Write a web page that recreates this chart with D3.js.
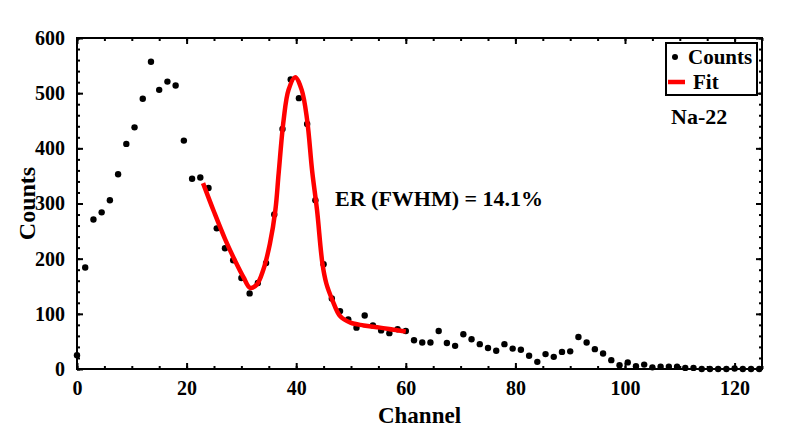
<!DOCTYPE html>
<html>
<head>
<meta charset="utf-8">
<script src="https://cdn.jsdelivr.net/npm/d3@7"></script>
<style>
  body { margin: 0; background: #fff; }
  svg text { font-family: "Liberation Serif", "Times New Roman", serif; font-weight: bold; }
</style>
</head>
<body>
<svg width="787" height="430"></svg>
<script>
// measured counts, one every 1.5 channel
var channels = d3.range(84).map(function(i) { return i * 1.5; });
var counts = [25, 184, 271, 284, 306, 353, 408, 438, 490, 557,
              506, 521, 514, 414, 345, 347, 328, 255, 219, 197,
              165, 137, 156, 192, 280, 435, 525, 491, 444, 306,
              190, 128, 105, 90, 75, 97, 79, 70, 65, 72,
              69, 52, 48, 48, 69, 47, 42, 63, 54, 45,
              38, 33, 45, 37, 35, 24, 13, 27, 22, 31,
              32, 58, 48, 36, 28, 16, 7, 12, 5, 8,
              3, 4, 4, 4, 2, 2, 0, 0, 0, 0,
              1, 0, 0, 0];

// fit line
var fitChannels = [23, 25, 27, 29, 30.4, 31.6, 32.8, 34, 35.2, 36.2, 36.8, 37.7, 38.6, 39.8,
                   41, 42, 42.9, 43.8, 44.8, 45.5, 46.6, 48, 49.9, 52.3, 55.3, 57.8, 60];
var fitCounts = [337, 285, 236, 193, 166, 147, 153, 180, 227, 288, 355, 451, 506, 529,
                 506, 451, 360, 288, 190, 155, 125, 96, 84, 79, 75, 71, 68];

var xTicks = [0, 20, 40, 60, 80, 100, 120];
var yTicks = [0, 100, 200, 300, 400, 500, 600];

var svg = d3.select("svg"),
    margin = {left: 77, right: 25, top: 38, bottom: 61},
    width = +svg.attr("width"),
    height = +svg.attr("height");

var x = d3.scaleLinear().domain([0, 125]).range([margin.left, width - margin.right]);
var y = d3.scaleLinear().domain([0, 600]).range([height - margin.bottom, margin.top]);

var x0 = x.range()[0], x1 = x.range()[1], y0 = y.range()[0], y1 = y.range()[1];

// minor ticks (inward, on all four sides)
var xMinor = d3.range(0, 126, 5), yMinor = d3.range(0, 601, 20);

function styleAxis(g) {
    g.select(".domain").remove();
    g.selectAll("line").attr("stroke", "#000").attr("stroke-width", 2);
}

svg.append("g").attr("transform", "translate(0," + y0 + ")")
    .call(d3.axisBottom(x).tickValues(xMinor).tickSize(-3).tickFormat(""))
    .call(styleAxis);
svg.append("g").attr("transform", "translate(0," + y1 + ")")
    .call(d3.axisTop(x).tickValues(xMinor).tickSize(-3).tickFormat(""))
    .call(styleAxis);
svg.append("g").attr("transform", "translate(" + x0 + ",0)")
    .call(d3.axisLeft(y).tickValues(yMinor).tickSize(-3).tickFormat(""))
    .call(styleAxis);
svg.append("g").attr("transform", "translate(" + x1 + ",0)")
    .call(d3.axisRight(y).tickValues(yMinor).tickSize(-3).tickFormat(""))
    .call(styleAxis);

// major ticks with labels
svg.append("g").attr("transform", "translate(0," + y0 + ")")
    .call(d3.axisBottom(x).tickValues(xTicks).tickSize(-6).tickPadding(12))
    .call(styleAxis)
    .selectAll("text").attr("font-size", 20).attr("fill", "#000")
    .attr("font-family", "Liberation Serif").attr("font-weight", "bold");
svg.append("g").attr("transform", "translate(0," + y1 + ")")
    .call(d3.axisTop(x).tickValues(xTicks).tickSize(-6).tickFormat(""))
    .call(styleAxis);
svg.append("g").attr("transform", "translate(" + x0 + ",0)")
    .call(d3.axisLeft(y).tickValues(yTicks).tickSize(-6).tickPadding(12))
    .call(styleAxis)
    .selectAll("text").attr("font-size", 20).attr("fill", "#000")
    .attr("font-family", "Liberation Serif").attr("font-weight", "bold");
svg.append("g").attr("transform", "translate(" + x1 + ",0)")
    .call(d3.axisRight(y).tickValues(yTicks).tickSize(-6).tickFormat(""))
    .call(styleAxis);

// box
svg.append("rect")
    .attr("x", x0).attr("y", y1)
    .attr("width", x1 - x0).attr("height", y0 - y1)
    .attr("fill", "none").attr("stroke", "#000").attr("stroke-width", 2);

// data points
svg.append("g")
    .selectAll("circle")
    .data(channels)
    .enter().append("circle")
    .attr("cx", function(d) { return x(d); })
    .attr("cy", function(d, i) { return y(counts[i]); })
    .attr("r", 3.2)
    .attr("fill", "#000");

// fit
var fitLine = d3.line()
    .x(function(d) { return x(d); })
    .y(function(d, i) { return y(fitCounts[i]); })
    .curve(d3.curveCatmullRom.alpha(0.5));

svg.append("path")
    .attr("d", fitLine(fitChannels))
    .attr("fill", "none")
    .attr("stroke", "#ff0000")
    .attr("stroke-width", 4.5)
    .attr("stroke-linejoin", "round");

// labels
svg.append("text")
    .attr("x", (x0 + x1) / 2).attr("y", 423)
    .attr("text-anchor", "middle")
    .attr("font-size", 23)
    .text("Channel");

svg.append("text")
    .attr("transform", "translate(35," + ((y0 + y1) / 2) + ") rotate(-90)")
    .attr("text-anchor", "middle")
    .attr("font-size", 24)
    .text("Counts");

svg.append("text")
    .attr("x", 335).attr("y", 206)
    .attr("font-size", 22)
    .text("ER (FWHM) = 14.1%");

svg.append("text")
    .attr("x", 671).attr("y", 124)
    .attr("font-size", 22)
    .text("Na-22");

// legend
var legend = svg.append("g");
legend.append("rect")
    .attr("x", 666).attr("y", 43)
    .attr("width", 91).attr("height", 52)
    .attr("fill", "#fff").attr("stroke", "#000").attr("stroke-width", 2);
legend.append("circle")
    .attr("cx", 675).attr("cy", 57).attr("r", 3)
    .attr("fill", "#000");
legend.append("text")
    .attr("x", 688).attr("y", 64)
    .attr("font-size", 21)
    .text("Counts");
legend.append("line")
    .attr("x1", 668).attr("x2", 685)
    .attr("y1", 82).attr("y2", 82)
    .attr("stroke", "#ff0000").attr("stroke-width", 4.5);
legend.append("text")
    .attr("x", 693).attr("y", 89)
    .attr("font-size", 21)
    .text("Fit");
</script>
</body>
</html>
